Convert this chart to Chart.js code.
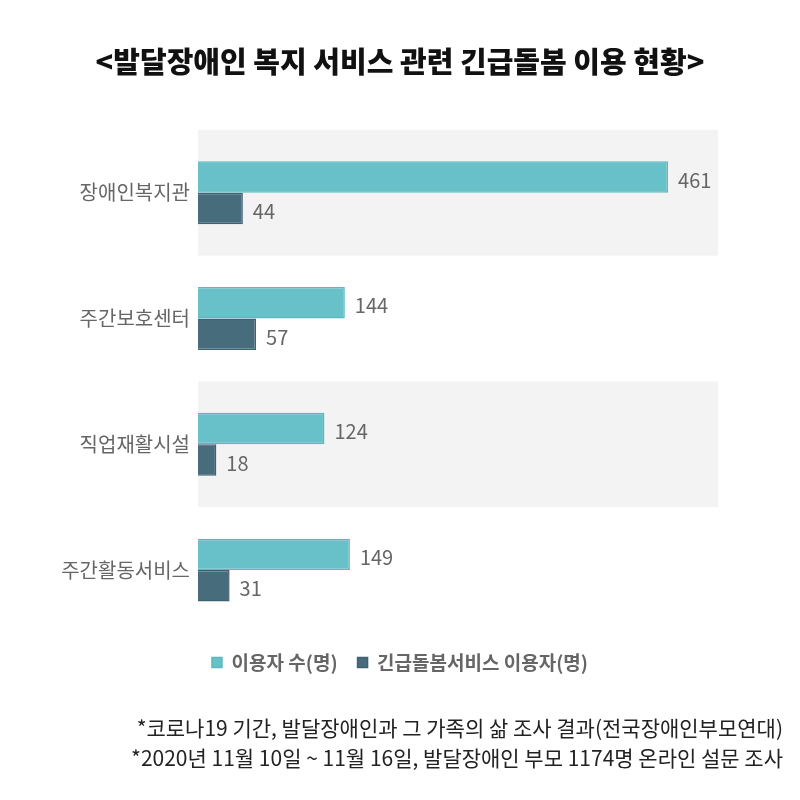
<!DOCTYPE html>
<html>
<head>
<meta charset="utf-8">
<script src="https://cdn.jsdelivr.net/npm/chart.js@4"></script>
<style>
  html, body { margin: 0; padding: 0; background: #fff; }
  #wrap { width: 800px; height: 800px; }
</style>
</head>
<body>
<div id="wrap"><canvas id="chart" width="800" height="800"></canvas></div>
<script>
const titleText = "<발달장애인 복지 서비스 관련 긴급돌봄 이용 현황>";
const categories = ["장애인복지관", "주간보호센터", "직업재활시설", "주간활동서비스"];
const seriesNames = ["이용자 수(명)", "긴급돌봄서비스 이용자(명)"];
const users = [461, 144, 124, 149];
const emergencyUsers = [44, 57, 18, 31];
const footnotes = [
  "*코로나19 기간, 발달장애인과 그 가족의 삶 조사 결과(전국장애인부모연대)",
  "*2020년 11월 10일 ~ 11월 16일, 발달장애인 부모 1174명 온라인 설문 조사",
];

const FONT = "'Noto Sans CJK KR', 'Noto Sans', sans-serif";
Chart.defaults.font.family = FONT;

// gray bands behind every other category
const bandPlugin = {
  id: "bands",
  beforeDatasetsDraw(chart) {
    const { ctx, chartArea, scales } = chart;
    const y = scales.y;
    const half = Math.abs(y.getPixelForValue(1) - y.getPixelForValue(0)) / 2;
    ctx.save();
    ctx.fillStyle = "#f3f3f3";
    categories.forEach((c, i) => {
      if (i % 2 !== 0) return;
      const cy = y.getPixelForValue(i);
      ctx.fillRect(chartArea.left, cy - half, chartArea.right - chartArea.left, half * 2);
    });
    ctx.restore();
  },
};

// value labels right of each bar
const valueLabels = {
  id: "valueLabels",
  afterDatasetsDraw(chart) {
    const { ctx } = chart;
    ctx.save();
    ctx.font = "20px " + FONT;
    ctx.fillStyle = "#666";
    ctx.textBaseline = "middle";
    ctx.textAlign = "left";
    chart.data.datasets.forEach((ds, di) => {
      chart.getDatasetMeta(di).data.forEach((bar, i) => {
        ctx.fillText(ds.data[i], bar.x + 10, bar.y + 3);
      });
    });
    ctx.restore();
  },
};

// source notes under the legend
const notesPlugin = {
  id: "notes",
  afterDraw(chart) {
    const { ctx } = chart;
    ctx.save();
    ctx.font = "21px " + FONT;
    ctx.fillStyle = "#222";
    ctx.textAlign = "right";
    ctx.textBaseline = "middle";
    footnotes.forEach((t, i) => {
      ctx.fillText(t, chart.width - 17, 728 + i * 30);
    });
    ctx.restore();
  },
};

new Chart(document.getElementById("chart").getContext("2d"), {
  type: "bar",
  data: {
    labels: categories,
    datasets: [
      {
        label: seriesNames[0],
        data: users,
        backgroundColor: "#68c1c8",
        borderColor: "#5cb8c0",
        borderWidth: 1.5,
      },
      {
        label: seriesNames[1],
        data: emergencyUsers,
        backgroundColor: "#476c7c",
        borderColor: "#3e6272",
        borderWidth: 1.5,
      },
    ],
  },
  options: {
    indexAxis: "y",
    responsive: false,
    animation: false,
    barPercentage: 1,
    categoryPercentage: 0.5,
    layout: { padding: { left: 30, right: 30, top: 0, bottom: 118 } },
    scales: {
      x: { display: false, min: 0, max: 510 },
      y: {
        grid: { display: false, drawTicks: false },
        border: { display: false },
        ticks: { color: "#666", font: { size: 20 }, padding: 8 },
        afterFit(scale) {
          scale.width = 168;
        },
      },
      // empty right-hand axis, only reserves room so the plot ends at the band edge
      yRight: {
        type: "category",
        position: "right",
        grid: { display: false, drawTicks: false },
        border: { display: false },
        ticks: { display: false },
        afterFit(scale) {
          scale.width = 52;
        },
      },
    },
    plugins: {
      title: {
        display: true,
        text: titleText,
        color: "#111",
        font: { size: 29, weight: "900" },
        padding: { top: 45, bottom: 50 },
      },
      legend: {
        position: "bottom",
        labels: {
          color: "#666",
          font: { size: 19, weight: "bold" },
          boxWidth: 10,
          boxHeight: 10,
          padding: 20,
        },
      },
      tooltip: { enabled: false },
    },
  },
  plugins: [bandPlugin, valueLabels, notesPlugin],
});
</script>
</body>
</html>
